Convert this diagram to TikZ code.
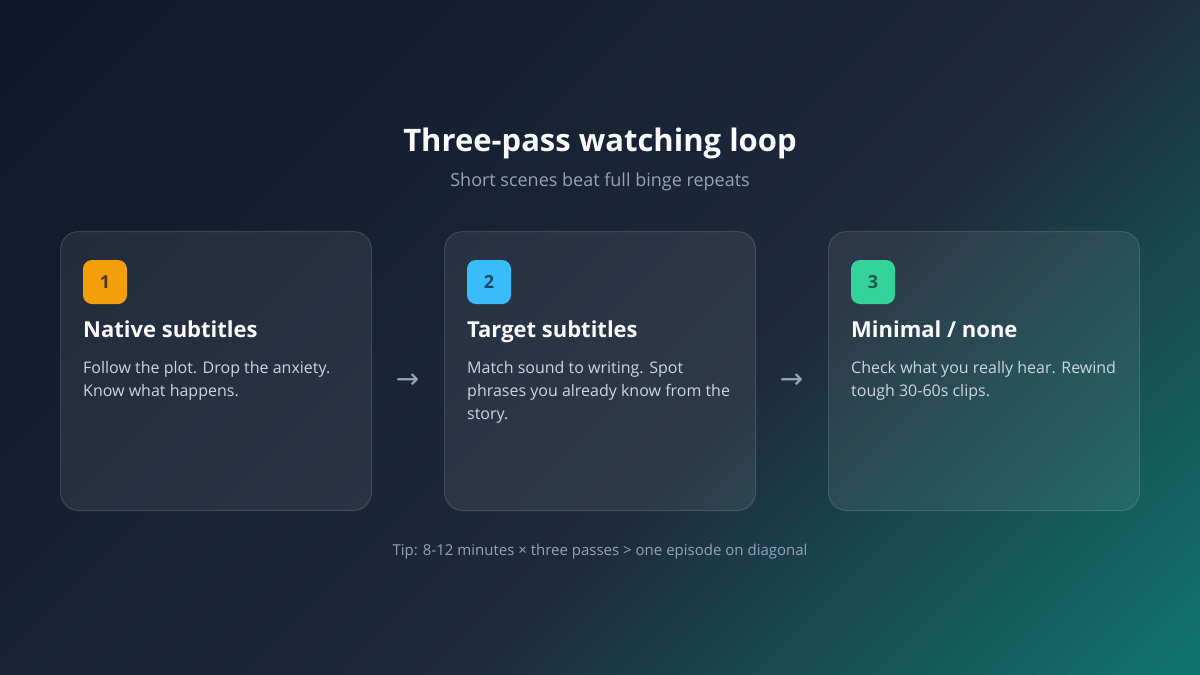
\documentclass[tikz,border=0pt]{standalone}
\usepackage{fontspec}
\setmainfont{Open Sans}
\newfontfamily\arrowfont{DejaVu Sans}
\definecolor{bgA}{HTML}{0F172A}
\definecolor{bgB}{HTML}{1E293B}
\definecolor{bgC}{HTML}{0F766E}
\definecolor{titlec}{HTML}{F8FAFC}
\definecolor{subc}{HTML}{94A3B8}
\definecolor{bodyc}{HTML}{CBD5E1}
\definecolor{orangeb}{HTML}{F59E0B}
\definecolor{blueb}{HTML}{38BDF8}
\definecolor{greenb}{HTML}{34D399}
\colorlet{numA}{orangeb!25!bgA}
\colorlet{numB}{blueb!30!bgA}
\colorlet{numC}{greenb!35!bgA}
\begin{document}
\begin{tikzpicture}[x=1pt,y=-1pt,
  card/.style={draw=white, draw opacity=0.14, fill=white, fill opacity=0.07,
    rounded corners=18pt, line width=1pt, minimum width=311pt, minimum height=279pt,
    anchor=north west, inner sep=0pt},
  badge/.style={rounded corners=9pt, minimum size=44pt, inner sep=0pt,
    font=\fontsize{18}{22}\selectfont\bfseries},
  head/.style={anchor=base west, inner sep=0pt, text=titlec,
    font=\fontsize{22}{26}\selectfont\bfseries},
  body/.style={anchor=base west, inner sep=0pt, text=bodyc,
    font=\fontsize{16}{23}\selectfont},
  arrowglyph/.style={inner sep=0pt, text=subc, font=\arrowfont\fontsize{28}{32}\selectfont}
]
\useasboundingbox (0,0) rectangle (1200,675);
\begin{scope}
\clip (0,0) rectangle (1200,675);
\foreach \i in {0,...,124} {
  \pgfmathsetmacro\s{\i*15}
  \pgfmathsetmacro\t{(\i*15+7.5)/1875}
  \ifdim\t pt<0.6pt
    \pgfmathsetmacro\p{\t/0.6*100}
    \colorlet{strip}{bgB!\p!bgA}
  \else
    \pgfmathsetmacro\p{(\t-0.6)/0.4*100}
    \colorlet{strip}{bgC!\p!bgB}
  \fi
  \fill[strip] (\s,0) -- (\s+16,0) -- (\s+16-675,675) -- (\s-675,675) -- cycle;
}
\end{scope}

\node[anchor=base, inner sep=0pt, text=titlec, font=\fontsize{31}{38}\selectfont\bfseries]
  (title) at (600,151) {Three-pass watching loop};
\node[anchor=base, inner sep=0pt, text=subc, font=\fontsize{18}{22}\selectfont]
  (subtitle) at (600,186) {Short scenes beat full binge repeats};

\node[card] (c1) at (60,231) {};
\node[card] (c2) at (444,231) {};
\node[card] (c3) at (828,231) {};

\node[badge, fill=orangeb, text=numA] (b1) at (105,282) {1};
\node[badge, fill=blueb, text=numB] (b2) at (489,282) {2};
\node[badge, fill=greenb, text=numC] (b3) at (873,282) {3};

\node[head] (h1) at (83,337) {Native subtitles};
\node[head] (h2) at (467,337) {Target subtitles};
\node[head] (h3) at (851,337) {Minimal / none};

\node[body] (t1a) at (83,373) {Follow the plot. Drop the anxiety.};
\node[body] (t1b) at (83,396) {Know what happens.};
\node[body] (t2a) at (467,373) {Match sound to writing. Spot};
\node[body] (t2b) at (467,396) {phrases you already know from the};
\node[body] (t2c) at (467,419) {story.};
\node[body] (t3a) at (851,373) {Check what you really hear. Rewind};
\node[body] (t3b) at (851,396) {tough 30-60s clips.};

\node[arrowglyph] (a1) at (407.5,381) {→};
\node[arrowglyph] (a2) at (791.5,381) {→};

\node[anchor=base, inner sep=0pt, text=subc, font=\fontsize{15}{18}\selectfont]
  (tip) at (600,555) {Tip: 8-12 minutes × three passes > one episode on diagonal};
\end{tikzpicture}
\end{document}
